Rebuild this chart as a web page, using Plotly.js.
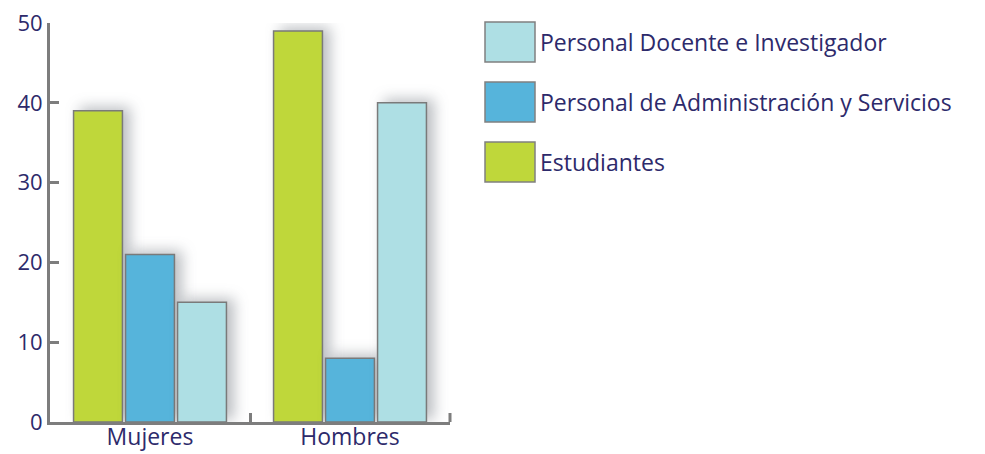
<!DOCTYPE html>
<html>
<head>
<meta charset="utf-8">
<script src="https://cdn.plot.ly/plotly-3.0.1.min.js"></script>
<style>
html,body{margin:0;padding:0;background:#fff;}
#chart{width:985px;height:454px;}
</style>
</head>
<body>
<div id="chart"></div>
<script>
// Data
const categories = ["Mujeres", "Hombres"];
const seriesNames = ["Estudiantes", "Personal de Administración y Servicios", "Personal Docente e Investigador"];
const estudiantes = [39, 49];
const administracion = [21, 8];
const docente = [15, 40];
const yTicks = [0, 10, 20, 30, 40, 50];

const colors = ["#bfd73a", "#56b4db", "#aedfe4"];
const textColor = "#2d2a6b";
const axisColor = "#7d7d7d";
const FONT = "'Open Sans', sans-serif";

const W = 985, H = 454;
const M = {l: 50, r: 535, t: 23, b: 32};
const pw = W - M.l - M.r, ph = H - M.t - M.b;
const px2x = p => (p - M.l) / pw;
const px2y = p => (H - M.b - p) / ph;

const values = [estudiantes, administracion, docente];
const traces = values.map((v, i) => ({
  type: "bar",
  name: seriesNames[i],
  x: categories,
  y: v,
  marker: {color: colors[i], line: {color: "#7a7a7a", width: 1.5}},
  hoverinfo: "none"
}));

// Legend (drawn, order reversed as in reference)
const shapes = [];
const annotations = [];
const legendOrder = [2, 1, 0];
legendOrder.forEach((idx, k) => {
  const top = 22 + k * 60;
  shapes.push({
    type: "rect", xref: "paper", yref: "paper",
    x0: px2x(485), x1: px2x(535), y0: px2y(top + 40), y1: px2y(top),
    fillcolor: colors[idx], line: {color: "#808080", width: 1.5}
  });
  annotations.push({
    xref: "paper", yref: "paper", x: px2x(538), y: px2y(top + 20),
    xanchor: "left", yanchor: "middle", showarrow: false,
    text: seriesNames[idx],
    font: {family: FONT, size: 23, color: textColor}
  });
});
// end tick of the x axis
shapes.push({
  type: "line", xref: "paper", yref: "paper",
  x0: 1, x1: 1, y0: 0, y1: px2y(H - M.b - 9),
  line: {color: axisColor, width: 3}
});

const layout = {
  width: W, height: H,
  margin: M,
  paper_bgcolor: "#ffffff",
  plot_bgcolor: "rgba(0,0,0,0)",
  showlegend: false,
  barmode: "group",
  bargap: 0.22,
  bargroupgap: 0.06,
  font: {family: FONT, color: textColor, size: 22},
  xaxis: {
    type: "category",
    showline: true, linecolor: axisColor, linewidth: 3,
    ticks: "inside", tickson: "boundaries", ticklen: 9, tickwidth: 3, tickcolor: axisColor,
    showgrid: false, zeroline: false,
    tickfont: {family: FONT, size: 23, color: textColor},
    ticklabelstandoff: -8
  },
  yaxis: {
    range: [0, 50],
    tickvals: yTicks,
    showline: true, linecolor: axisColor, linewidth: 3,
    ticks: "inside", ticklen: 9, tickwidth: 3, tickcolor: axisColor,
    showgrid: false, zeroline: false,
    tickfont: {family: FONT, size: 22, color: textColor}
  },
  shapes: shapes,
  annotations: annotations
};

Plotly.newPlot("chart", traces, layout, {staticPlot: true}).then(() => {
  document.querySelectorAll(".barlayer .point path").forEach(p => {
    p.style.filter = "drop-shadow(7px -3px 7px rgba(60,70,80,0.35))";
  });
});
</script>
</body>
</html>
